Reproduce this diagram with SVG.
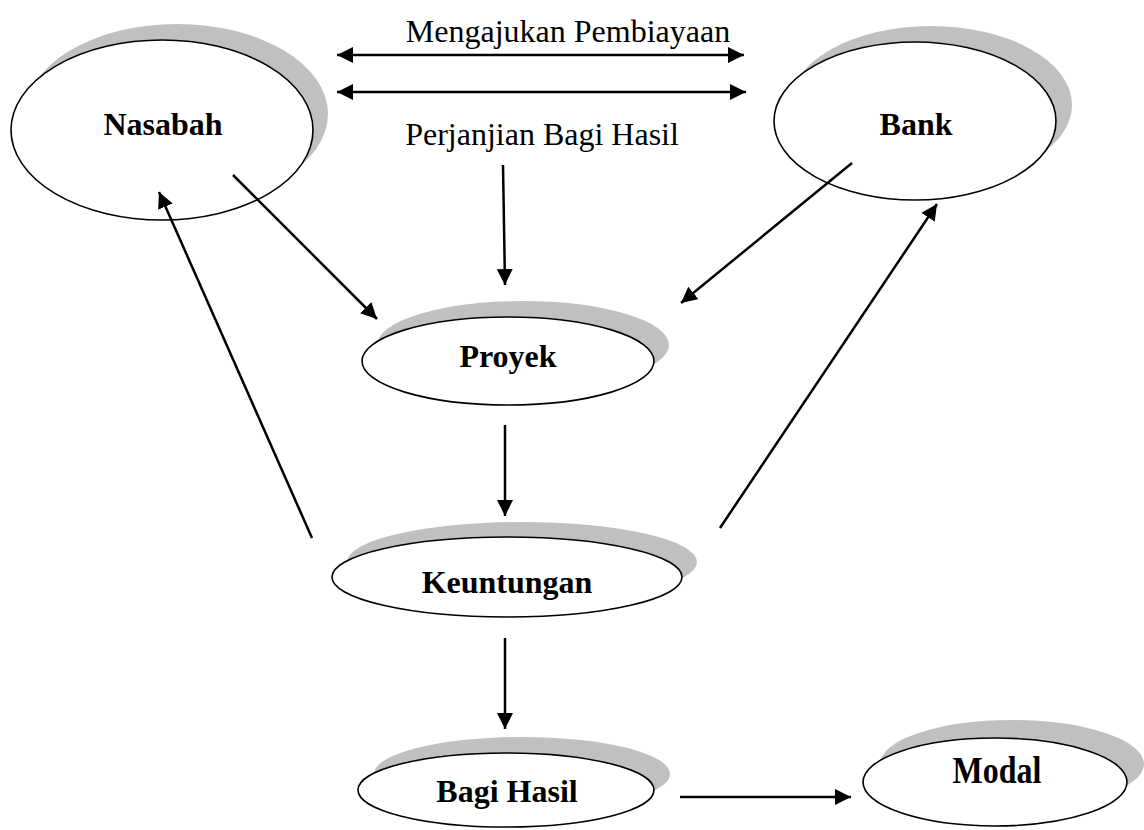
<svg xmlns="http://www.w3.org/2000/svg" width="1144" height="830" viewBox="0 0 1144 830">
<style>
.sh{fill:#c0c0c0;stroke:none}
.el{fill:#fff;stroke:#000;stroke-width:1.6}
.lb{font-family:"Liberation Serif","Times New Roman",serif;font-weight:bold;font-size:32px;text-anchor:middle;fill:#000}
.tx{font-family:"Liberation Serif","Times New Roman",serif;font-size:32px;text-anchor:middle;fill:#000}
.cn{stroke:#000;stroke-width:2.5;fill:none;marker-end:url(#ah)}
.bi{marker-start:url(#ah)}
</style>
<defs>
<marker id="ah" markerUnits="userSpaceOnUse" markerWidth="18" markerHeight="16" refX="16" refY="8" orient="auto-start-reverse">
<path d="M0,0 L16,8 L0,16 Z" fill="#000"/>
</marker>
</defs>
<rect width="1144" height="830" fill="#fff"/>
<g id="nasabah">
<ellipse class="sh" cx="177" cy="114" rx="151" ry="90"/>
<ellipse class="el" cx="162" cy="130" rx="151" ry="90"/>
<text class="lb" x="163" y="135">Nasabah</text>
</g>
<g id="bank">
<ellipse class="sh" cx="931" cy="105" rx="141" ry="79"/>
<ellipse class="el" cx="915" cy="121" rx="141" ry="79"/>
<text class="lb" x="916" y="135">Bank</text>
</g>
<g id="proyek">
<ellipse class="sh" cx="523" cy="345" rx="146" ry="44"/>
<ellipse class="el" cx="508" cy="361" rx="146" ry="44"/>
<text class="lb" x="508" y="367">Proyek</text>
</g>
<g id="keuntungan">
<ellipse class="sh" cx="522" cy="562" rx="175" ry="40"/>
<ellipse class="el" cx="507" cy="577" rx="175" ry="40"/>
<text class="lb" x="507" y="593">Keuntungan</text>
</g>
<g id="bagihasil">
<ellipse class="sh" cx="522" cy="774" rx="148" ry="37"/>
<ellipse class="el" cx="506" cy="790" rx="148" ry="37"/>
<text class="lb" x="507" y="802">Bagi Hasil</text>
</g>
<g id="modal">
<ellipse class="sh" cx="1012" cy="764" rx="132" ry="44"/>
<ellipse class="el" cx="995" cy="782" rx="132" ry="44"/>
<text class="lb" transform="translate(997,783) scale(1,1.2)" x="0" y="0">Modal</text>
</g>
<g id="labels">
<text class="tx" x="568" y="42">Mengajukan Pembiayaan</text>
<text class="tx" x="542" y="145">Perjanjian Bagi Hasil</text>
</g>
<g id="connectors">
<line class="cn bi" x1="337" y1="55" x2="744" y2="55"/>
<line class="cn bi" x1="337" y1="92" x2="746" y2="92"/>
<line class="cn" x1="503" y1="165" x2="505" y2="285"/>
<line class="cn" x1="233" y1="175" x2="377" y2="319"/>
<line class="cn" x1="852" y1="163" x2="681" y2="303"/>
<line class="cn" x1="312" y1="538" x2="159" y2="192"/>
<line class="cn" x1="720" y1="528" x2="937" y2="204"/>
<line class="cn" x1="505" y1="425" x2="505" y2="516"/>
<line class="cn" x1="505" y1="638" x2="505" y2="729"/>
<line class="cn" x1="680" y1="797" x2="851" y2="797"/>
</g>
</svg>
